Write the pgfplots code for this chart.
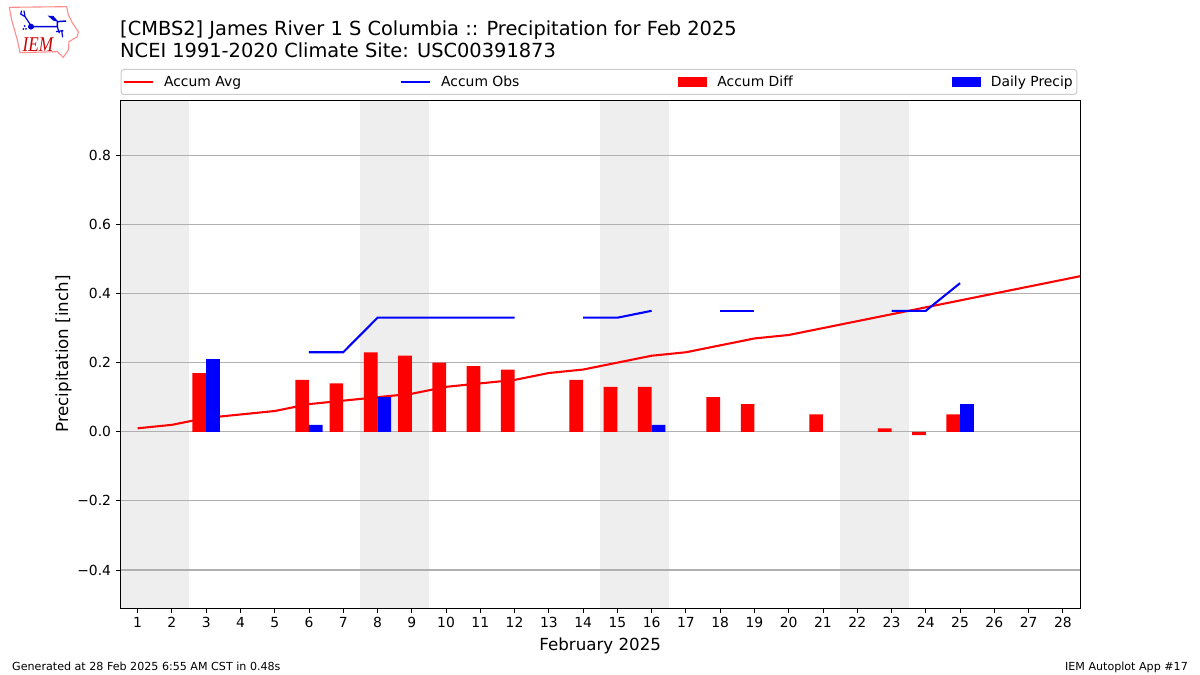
\documentclass[border=0pt]{standalone}
\usepackage{pgfplots}
\pgfplotsset{compat=1.18}
\usepackage{fontspec}
\setmainfont{DejaVu Sans}
\newfontfamily\logofont{Liberation Serif}
\definecolor{band}{HTML}{EEEEEE}
\definecolor{gridc}{HTML}{B0B0B0}
\definecolor{legc}{HTML}{CCCCCC}
\newcommand{\fsz}[1]{\fontsize{#1}{#1}\selectfont}
\begin{document}
\begin{tikzpicture}
\path (0pt,0pt) rectangle (1200pt,675pt);
% logo
\begin{scope}[shift={(0pt,675pt)},x=0.3333pt,y=-0.3333pt]
\draw[color=red!45!white,line width=1.1pt,fill=white] (28,22)--(200,20)--(205,45)--(218,70)--(235,95)--(232,110)--(207,125)--(205,150)--(190,172)--(172,155)--(60,158)--(52,120)--(35,60)--cycle;
\draw[blue!85!black,line width=1.2pt] (65,32)--(62,42)--(75,50)--(95,80) (72,32)--(75,50);
\fill[blue!85!black] (93,80) circle [radius=9];
\draw[blue!85!black,line width=1.5pt] (95,80)--(172,80)--(172,65)--(198,63);
\fill[blue!85!black] (143,47)--(160,48)--(175,65)--(160,62)--cycle;
\draw[blue!85!black,line width=1.2pt] (172,80)--(178,100) (168,95)--(190,92) (185,90)--(188,112);
\fill[blue!85!black] (70,87) circle [radius=3] (78,87) circle [radius=3] (74,78) circle [radius=3];
\node[text=red!80!black,anchor=center,xscale=0.82] at (114,133) {\logofont\itshape\fsz{21}IEM};
\end{scope}
\begin{axis}[
  at={(120.5pt,67pt)},anchor=south west,
  scale only axis,width=959.5pt,height=508pt,
  xmin=0.5,xmax=28.5,ymin=-0.51,ymax=0.96,
  hide axis,
]
\addplot[fill=band,draw=none] coordinates {(0.5,-0.51)(2.5,-0.51)(2.5,0.96)(0.5,0.96)} --cycle;
\addplot[fill=band,draw=none] coordinates {(7.5,-0.51)(9.5,-0.51)(9.5,0.96)(7.5,0.96)} --cycle;
\addplot[fill=band,draw=none] coordinates {(14.5,-0.51)(16.5,-0.51)(16.5,0.96)(14.5,0.96)} --cycle;
\addplot[fill=band,draw=none] coordinates {(21.5,-0.51)(23.5,-0.51)(23.5,0.96)(21.5,0.96)} --cycle;
\end{axis}
\begin{axis}[
  at={(120.5pt,67pt)},anchor=south west,
  scale only axis,width=959.5pt,height=508pt,
  xmin=0.5,xmax=28.5,ymin=-0.51,ymax=0.96,
  axis line style={line width=0.9pt,black},
  tick style={line width=0.9pt,black},
  tick align=outside,
  major tick length=4.9pt,
  xtick={1,...,28},
  ytick={-0.4,-0.2,0,0.2,0.4,0.6,0.8},
  yticklabels={−0.4,−0.2,0.0,0.2,0.4,0.6,0.8},
  xtick pos=lower,ytick pos=left,
  ymajorgrids,
  grid style={line width=1.1pt,gridc},
  tick label style={font=\fsz{13.89}},
  xticklabel style={/pgf/number format/assume math mode=true,yshift=-1pt},
  yticklabel style={xshift=-1pt},
  xlabel={February 2025},ylabel={Precipitation [inch]},
  label style={font=\fsz{16.67}},
  xlabel style={yshift=-3pt},
  ylabel style={yshift=-1pt},
  clip=true,
  legend cell align=left,
  legend columns=4,
  legend style={at={(0,1)},anchor=south west,yshift=5pt,draw=legc,line width=1pt,rounded corners=3pt,fill=white,font=\fsz{13.89},inner xsep=2pt,inner ysep=4.5pt,
    /tikz/every odd column/.append style={column sep=8pt},
    /tikz/every even column/.append style={column sep=157pt}},
]
\addlegendimage{legend image code/.code={\draw[sharp corners,red,line width=2.08pt] (0pt,0pt)--(29pt,0pt);}}
\addlegendentry{Accum Avg}
\addlegendimage{legend image code/.code={\draw[sharp corners,blue,line width=2.08pt] (0pt,0pt)--(29pt,0pt);}}
\addlegendentry{Accum Obs}
\addlegendimage{legend image code/.code={\fill[sharp corners,red] (0pt,-4.5pt) rectangle (28pt,4.5pt);}}
\addlegendentry{Accum Diff}
\addlegendimage{legend image code/.code={\fill[sharp corners,blue] (0pt,-4.5pt) rectangle (28pt,4.5pt);}}
\addlegendentry{Daily Precip\hspace{6.5pt}}
\addplot[red,line width=2.08pt,forget plot] coordinates {(1,0.01)(2,0.02)(3,0.04)(4,0.05)(5,0.06)(6,0.08)(7,0.09)(8,0.10)(9,0.11)(10,0.13)(11,0.14)(12,0.15)(13,0.17)(14,0.18)(15,0.20)(16,0.22)(17,0.23)(18,0.25)(19,0.27)(20,0.28)(21,0.30)(22,0.32)(23,0.34)(24,0.36)(25,0.38)(26,0.40)(27,0.42)(28,0.44)(29,0.46)};
\addplot[blue,line width=2.08pt,forget plot] coordinates {(6,0.23)(7,0.23)(8,0.33)(9,0.33)(10,0.33)(11,0.33)(12,0.33)};
\addplot[blue,line width=2.08pt,forget plot] coordinates {(14,0.33)(15,0.33)(16,0.35)};
\addplot[blue,line width=2.08pt,forget plot] coordinates {(18,0.35)(19,0.35)};
\addplot[blue,line width=2.08pt,forget plot] coordinates {(23,0.35)(24,0.35)(25,0.43)};
\addplot[ybar,bar width=13.7pt,bar shift=-6.85pt,fill=red,draw=none,forget plot] coordinates {(3,0.17)(6,0.15)(7,0.14)(8,0.23)(9,0.22)(10,0.20)(11,0.19)(12,0.18)(14,0.15)(15,0.13)(16,0.13)(18,0.10)(19,0.08)(21,0.05)(23,0.01)(24,-0.01)(25,0.05)};
\addplot[ybar,bar width=13.7pt,bar shift=6.85pt,fill=blue,draw=none,forget plot] coordinates {(3,0.21)(6,0.02)(8,0.10)(16,0.02)(25,0.08)};
\end{axis}
\node[anchor=base west,inner sep=0pt] at (120pt,639.2pt) {\fsz{19.4}[CMBS2] James River 1 S Columbia :: Precipitation for Feb 2025};
\node[anchor=base west,inner sep=0pt] at (120pt,617.2pt) {\fsz{19.4}NCEI 1991-2020 Climate Site: USC00391873};
\node[anchor=base west,inner sep=0pt] at (12pt,5pt) {\fsz{11.11}Generated at 28 Feb 2025 6:55 AM CST in 0.48s};
\node[anchor=base east,inner sep=0pt] at (1188pt,5pt) {\fsz{11.11}IEM Autoplot App \#17};
\end{tikzpicture}
\end{document}
